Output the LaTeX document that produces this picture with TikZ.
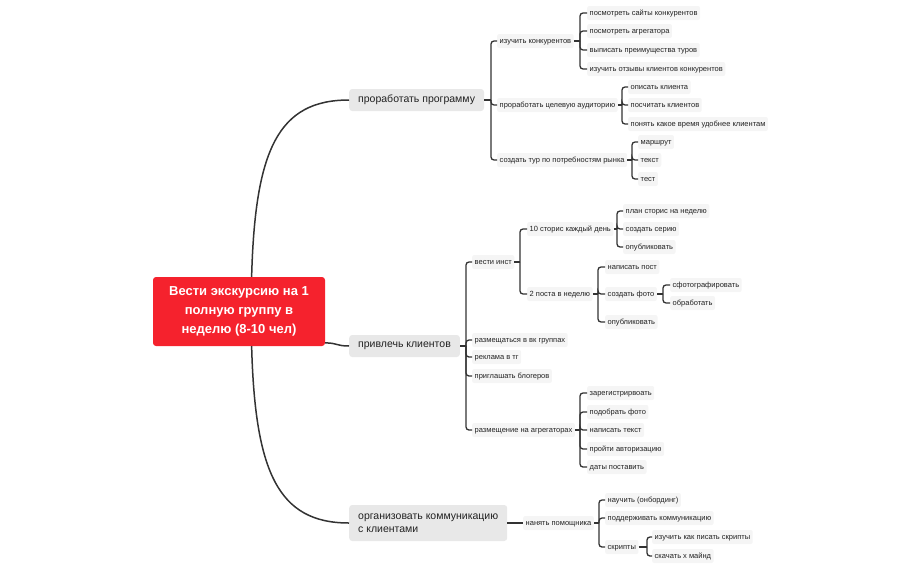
\documentclass[tikz,border=0pt]{standalone}
\usepackage{fontspec}
\setmainfont{Liberation Sans}
\usepackage{xcolor}
\usepackage{tikz}
\usetikzlibrary{positioning, calc}
\definecolor{rootred}{RGB}{245,34,45}
\definecolor{topicgray}{RGB}{232,232,232}
\definecolor{leafgray}{RGB}{245,245,245}
\definecolor{linegray}{RGB}{51,51,51}
\definecolor{textgray}{RGB}{34,34,34}

\begin{document}
\begin{tikzpicture}[
    x=1pt, y=-1pt,
    root/.style={fill=rootred, rounded corners=3pt, minimum width=172pt, minimum height=69pt, align=center, text=white, font=\fontsize{13}{19}\selectfont\bfseries},
    topic/.style={fill=topicgray, rounded corners=3pt, anchor=west, minimum height=22pt, inner xsep=9pt, inner ysep=6pt, align=left, text=textgray, font=\fontsize{10.5}{13.3}\selectfont},
    leaf/.style={fill=leafgray, rounded corners=2pt, anchor=west, minimum height=14pt, inner xsep=2.5pt, inner ysep=0pt, text height=5.5pt, text depth=1.5pt, text=textgray, font=\fontsize{7.5}{9}\selectfont},
    link/.style={draw=linegray, line width=1.5pt},
    twig/.style={draw=linegray, line width=1.3pt, rounded corners=3pt}
]
    \useasboundingbox (0,0) rectangle (918,568);

    % Root
    \node[root] (root) at (239,311.5) {Вести экскурсию на 1\\полную группу в\\неделю (8-10 чел)};

    % Main topics
    \node[topic] (prog) at (349,100) {проработать программу};
    \node[topic] (attract) at (349,346) {привлечь клиентов};
    \node[topic, minimum height=36pt] (comm) at (349,523) {организовать коммуникацию\\с клиентами};

    % Program branch
    \node[leaf] (compet) at (497,41) {изучить конкурентов};
    \node[leaf] (audience) at (497,105) {проработать целевую аудиторию};
    \node[leaf] (tour) at (497,160) {создать тур по потребностям рынка};

    \node[leaf] (cmp1) at (587,13) {посмотреть сайты конкурентов};
    \node[leaf] (cmp2) at (587,31) {посмотреть агрегатора};
    \node[leaf] (cmp3) at (587,50) {выписать преимущества туров};
    \node[leaf] (cmp4) at (587,69) {изучить отзывы клиентов конкурентов};

    \node[leaf] (aud1) at (628,87) {описать клиента};
    \node[leaf] (aud2) at (628,105) {посчитать клиентов};
    \node[leaf] (aud3) at (628,124) {понять какое время удобнее клиентам};

    \node[leaf] (tour1) at (638,142) {маршрут};
    \node[leaf] (tour2) at (638,160) {текст};
    \node[leaf] (tour3) at (638,179) {тест};

    % Attract branch
    \node[leaf] (insta) at (472,262) {вести инст};
    \node[leaf] (vk) at (472,340) {размещаться в вк группах};
    \node[leaf] (tg) at (472,357) {реклама в тг};
    \node[leaf] (blog) at (472,376) {приглашать блогеров};
    \node[leaf] (agg) at (472,430) {размещение на агрегаторах};

    \node[leaf] (stories) at (527,229) {10 сторис каждый день};
    \node[leaf] (posts) at (527,294) {2 поста в неделю};

    \node[leaf] (st1) at (623,211) {план сторис на неделю};
    \node[leaf] (st2) at (623,229) {создать серию};
    \node[leaf] (st3) at (623,247) {опубликовать};

    \node[leaf] (ps1) at (605,267) {написать пост};
    \node[leaf] (photo) at (605,294) {создать фото};
    \node[leaf] (ps3) at (605,322) {опубликовать};

    \node[leaf] (ph1) at (670,285) {сфотографировать};
    \node[leaf] (ph2) at (670,303) {обработать};

    \node[leaf] (ag1) at (587,393) {зарегистрирвоать};
    \node[leaf] (ag2) at (587,412) {подобрать фото};
    \node[leaf] (ag3) at (587,430) {написать текст};
    \node[leaf] (ag4) at (587,449) {пройти авторизацию};
    \node[leaf] (ag5) at (587,467) {даты поставить};

    % Communication branch
    \node[leaf] (helper) at (523,523) {нанять помощника};
    \node[leaf] (hp1) at (605,500) {научить (онбординг)};
    \node[leaf] (hp2) at (605,518) {поддерживать коммуникацию};
    \node[leaf] (scripts) at (605,547) {скрипты};
    \node[leaf] (sc1) at (652,537) {изучить как писать скрипты};
    \node[leaf] (sc2) at (652,556) {скачать х майнд};

    % Connections from root
    \draw[link] (root.70) .. controls (255,150) and (278,100) .. (prog.west);
    \draw[link] (root.-20) .. controls (338,343) and (336,346) .. (attract.west);
    \draw[link] (root.-70) .. controls (255,472) and (278,523) .. (comm.west);
    \draw[link] (comm.east) -- (helper.west);

    % Brackets
    \draw[twig] (prog.east) -- (prog.east -| 491,0) coordinate (prog-b);
    \foreach \c in {compet,audience,tour} \draw[twig] (prog-b) |- (\c.west);
    \draw[twig] (compet.east) -- (compet.east -| 580,0) coordinate (compet-b);
    \foreach \c in {cmp1,cmp2,cmp3,cmp4} \draw[twig] (compet-b) |- (\c.west);
    \draw[twig] (audience.east) -- (audience.east -| 622,0) coordinate (audience-b);
    \foreach \c in {aud1,aud2,aud3} \draw[twig] (audience-b) |- (\c.west);
    \draw[twig] (tour.east) -- (tour.east -| 632,0) coordinate (tour-b);
    \foreach \c in {tour1,tour2,tour3} \draw[twig] (tour-b) |- (\c.west);

    \draw[twig] (attract.east) -- (attract.east -| 466,0) coordinate (attract-b);
    \foreach \c in {insta,vk,tg,blog,agg} \draw[twig] (attract-b) |- (\c.west);
    \draw[twig] (insta.east) -- (insta.east -| 520,0) coordinate (insta-b);
    \foreach \c in {stories,posts} \draw[twig] (insta-b) |- (\c.west);
    \draw[twig] (stories.east) -- (stories.east -| 617,0) coordinate (stories-b);
    \foreach \c in {st1,st2,st3} \draw[twig] (stories-b) |- (\c.west);
    \draw[twig] (posts.east) -- (posts.east -| 598,0) coordinate (posts-b);
    \foreach \c in {ps1,photo,ps3} \draw[twig] (posts-b) |- (\c.west);
    \draw[twig] (photo.east) -- (photo.east -| 663,0) coordinate (photo-b);
    \foreach \c in {ph1,ph2} \draw[twig] (photo-b) |- (\c.west);
    \draw[twig] (agg.east) -- (agg.east -| 580,0) coordinate (agg-b);
    \foreach \c in {ag1,ag2,ag3,ag4,ag5} \draw[twig] (agg-b) |- (\c.west);

    \draw[twig] (helper.east) -- (helper.east -| 599,0) coordinate (helper-b);
    \foreach \c in {hp1,hp2,scripts} \draw[twig] (helper-b) |- (\c.west);
    \draw[twig] (scripts.east) -- (scripts.east -| 647,0) coordinate (scripts-b);
    \foreach \c in {sc1,sc2} \draw[twig] (scripts-b) |- (\c.west);
\end{tikzpicture}
\end{document}
